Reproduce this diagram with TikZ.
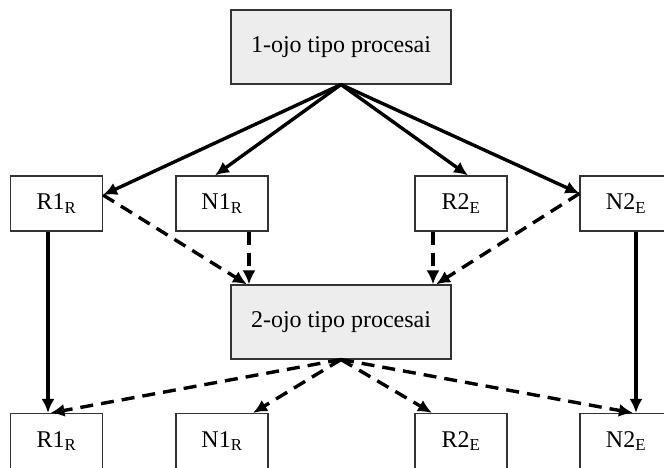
\documentclass[tikz,border=0pt]{standalone}
\usepackage{fontspec}
\setmainfont{Liberation Serif}
\usetikzlibrary{arrows.meta}

\begin{document}
\begin{tikzpicture}[x=1pt,y=1pt]

	\tikzset{myprocbox/.style={draw=black!80, fill=black!7, line width=1.1pt, minimum width=220pt, minimum height=74pt, inner sep=0pt, font=\fontsize{24}{28}\selectfont}}
	\tikzset{mysmallbox/.style={draw=black!80, fill=white, line width=1.1pt, minimum width=92pt, minimum height=55pt, inner sep=0pt, font=\fontsize{24}{28}\selectfont}}
	\tikzset{mysolidarrow/.style={-{Latex[length=14pt,width=13pt]}, black, line width=3.4pt}}
	\tikzset{mydashedarrow/.style={mysolidarrow, dash pattern=on 13pt off 8pt}}

	% Parameters
	\def\Ytop{264.5}   % upper row of boxes
	\def\Ybot{27}      % lower row of boxes

	\useasboundingbox (0,0) rectangle (664,468);
	\clip (0,0) rectangle (664,468);

	%process boxes
	\node[myprocbox] (proc1) at (341,421) {1-ojo tipo procesai};
	\node[myprocbox] (proc2) at (341,146) {2-ojo tipo procesai};

	%upper row
	\node[mysmallbox] (r1a) at (56.5,\Ytop) {R1\textsubscript{R}};
	\node[mysmallbox] (n1a) at (222,\Ytop) {N1\textsubscript{R}};
	\node[mysmallbox] (r2a) at (461,\Ytop) {R2\textsubscript{E}};
	\node[mysmallbox] (n2a) at (626,\Ytop) {N2\textsubscript{E}};

	%lower row
	\node[mysmallbox] (r1b) at (56.5,\Ybot) {R1\textsubscript{R}};
	\node[mysmallbox] (n1b) at (222,\Ybot) {N1\textsubscript{R}};
	\node[mysmallbox] (r2b) at (461,\Ybot) {R2\textsubscript{E}};
	\node[mysmallbox] (n2b) at (626,\Ybot) {N2\textsubscript{E}};

	\draw[mysolidarrow] (proc1.south) -- ([yshift=8.5pt]r1a.east);
	\draw[mysolidarrow] (proc1.south) -- ([xshift=-7pt]n1a.north);
	\draw[mysolidarrow] (proc1.south) -- ([xshift=7pt]r2a.north);
	\draw[mysolidarrow] (proc1.south) -- ([yshift=10pt]n2a.west);

	\draw[mydashedarrow] ([yshift=8.5pt]r1a.east) -- ([xshift=-94pt]proc2.north);
	\draw[mydashedarrow] ([xshift=27pt]n1a.south) -- ([xshift=-92pt]proc2.north);
	\draw[mydashedarrow] ([xshift=-28pt]r2a.south) -- ([xshift=92pt]proc2.north);
	\draw[mydashedarrow] ([yshift=10pt]n2a.west) -- ([xshift=95pt]proc2.north);

	\draw[mysolidarrow] ([xshift=-8.5pt]r1a.south) -- ([xshift=-8.5pt]r1b.north);
	\draw[mysolidarrow] ([xshift=10pt]n2a.south) -- ([xshift=10pt]n2b.north);

	\draw[mydashedarrow] (proc2.south) -- ([xshift=-6pt]r1b.north);
	\draw[mydashedarrow] (proc2.south) -- ([xshift=31pt]n1b.north);
	\draw[mydashedarrow] (proc2.south) -- ([xshift=-29pt]r2b.north);
	\draw[mydashedarrow] (proc2.south) -- ([xshift=7pt]n2b.north);

\end{tikzpicture}
\end{document}
